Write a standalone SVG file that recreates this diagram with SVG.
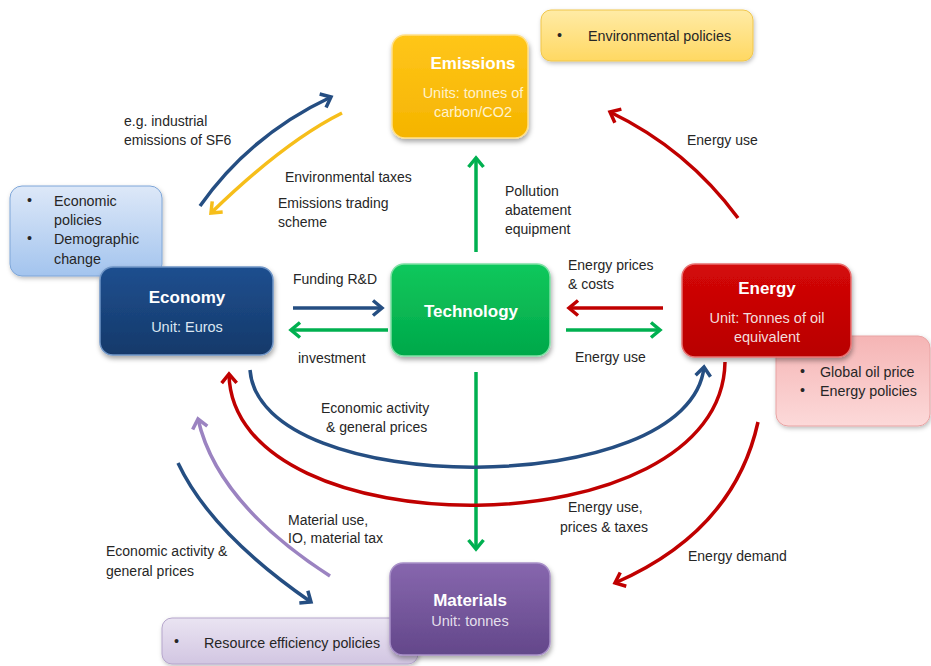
<svg xmlns="http://www.w3.org/2000/svg" width="931" height="666" viewBox="0 0 931 666">
<style>
text{font-family:"Liberation Sans",Arial,sans-serif;}
.lbl{font-size:14px;fill:#262626;}
.title{font-size:17px;font-weight:bold;fill:#ffffff;text-anchor:middle;}
.sub{font-size:14.5px;text-anchor:middle;}
.side{font-size:14.3px;fill:#262626;}
.c{fill:none;stroke-width:3.5;}
.blue{stroke:#254E82;}
.green{stroke:#00B050;}
.red{stroke:#C00000;}
.yellow{stroke:#F6BE1A;}
.purple{stroke:#9B83C1;}
</style>
<defs>
<filter id="sh" x="-20%" y="-20%" width="140%" height="150%">
<feDropShadow dx="1" dy="3" stdDeviation="2.5" flood-color="#000" flood-opacity="0.35"/>
</filter>
<filter id="sh2" x="-20%" y="-20%" width="140%" height="150%">
<feDropShadow dx="1" dy="2" stdDeviation="2" flood-color="#000" flood-opacity="0.25"/>
</filter>
<linearGradient id="gEm" x1="0" y1="0" x2="0" y2="1"><stop offset="0" stop-color="#FFC61A"/><stop offset="1" stop-color="#F5B400"/></linearGradient>
<linearGradient id="gEc" x1="0" y1="0" x2="0" y2="1"><stop offset="0" stop-color="#1E4F8F"/><stop offset="1" stop-color="#15396A"/></linearGradient>
<linearGradient id="gTe" x1="0" y1="0" x2="0" y2="1"><stop offset="0" stop-color="#10C85C"/><stop offset="1" stop-color="#00A84A"/></linearGradient>
<linearGradient id="gEn" x1="0" y1="0" x2="0" y2="1"><stop offset="0" stop-color="#D40808"/><stop offset="1" stop-color="#B80000"/></linearGradient>
<linearGradient id="gMa" x1="0" y1="0" x2="0" y2="1"><stop offset="0" stop-color="#8767AE"/><stop offset="1" stop-color="#63478A"/></linearGradient>
<linearGradient id="gEnv" x1="0" y1="0" x2="0" y2="1"><stop offset="0" stop-color="#FFEBA6"/><stop offset="1" stop-color="#FFD862"/></linearGradient>
<linearGradient id="gEcp" x1="0" y1="0" x2="0" y2="1"><stop offset="0" stop-color="#DDE8F8"/><stop offset="1" stop-color="#A3C4EE"/></linearGradient>
<linearGradient id="gEnp" x1="0" y1="0" x2="0" y2="1"><stop offset="0" stop-color="#F5B5B5"/><stop offset="1" stop-color="#FCD9D9"/></linearGradient>
<linearGradient id="gRes" x1="0" y1="0" x2="0" y2="1"><stop offset="0" stop-color="#EAE4F2"/><stop offset="1" stop-color="#D2C6E2"/></linearGradient>
<marker id="aBlue" markerUnits="userSpaceOnUse" markerWidth="24" markerHeight="24" viewBox="-14 -12 24 24" refX="0" refY="0" orient="auto"><path d="M-9,-7.5 L0,0 L-9,7.5" fill="none" stroke="#254E82" stroke-width="3.5"/></marker>
<marker id="aGreen" markerUnits="userSpaceOnUse" markerWidth="24" markerHeight="24" viewBox="-14 -12 24 24" refX="0" refY="0" orient="auto"><path d="M-9,-7.5 L0,0 L-9,7.5" fill="none" stroke="#00B050" stroke-width="3.5"/></marker>
<marker id="aRed" markerUnits="userSpaceOnUse" markerWidth="24" markerHeight="24" viewBox="-14 -12 24 24" refX="0" refY="0" orient="auto"><path d="M-9,-7.5 L0,0 L-9,7.5" fill="none" stroke="#C00000" stroke-width="3.5"/></marker>
<marker id="aYellow" markerUnits="userSpaceOnUse" markerWidth="24" markerHeight="24" viewBox="-14 -12 24 24" refX="0" refY="0" orient="auto"><path d="M-9,-7.5 L0,0 L-9,7.5" fill="none" stroke="#F6BE1A" stroke-width="3.5"/></marker>
<marker id="aPurple" markerUnits="userSpaceOnUse" markerWidth="24" markerHeight="24" viewBox="-14 -12 24 24" refX="0" refY="0" orient="auto"><path d="M-9,-7.5 L0,0 L-9,7.5" fill="none" stroke="#9B83C1" stroke-width="3.5"/></marker>
</defs>
<rect width="931" height="666" fill="#ffffff"/>

<g id="connectors">
<path class="c blue" d="M200,206 Q250,135 331,97" marker-end="url(#aBlue)"/>
<path class="c yellow" d="M342,113 Q284,142 211,213" marker-end="url(#aYellow)"/>
<path class="c red" d="M738,218 Q687,149 610,112" marker-end="url(#aRed)"/>
<path class="c green" d="M476,252 L476,158" marker-end="url(#aGreen)"/>
<path class="c green" d="M476,372 L476,549" marker-end="url(#aGreen)"/>
<path class="c blue" d="M293,308 L382,308" marker-end="url(#aBlue)"/>
<path class="c green" d="M388,330 L291,330" marker-end="url(#aGreen)"/>
<path class="c red" d="M663,308 L569,308" marker-end="url(#aRed)"/>
<path class="c green" d="M566,330 L660,330" marker-end="url(#aGreen)"/>
<path class="c blue" d="M250,370 C260,500 690,500 704,367" marker-end="url(#aBlue)"/>
<path class="c red" d="M725,362 C722,551 232,551 229,374" marker-end="url(#aRed)"/>
<path class="c purple" d="M330,576 Q217,503 198,419" marker-end="url(#aPurple)"/>
<path class="c blue" d="M178,463 Q211,533 311,602" marker-end="url(#aBlue)"/>
<path class="c red" d="M758,422 Q734,531 615,583" marker-end="url(#aRed)"/>
</g>

<g id="labels">
<text class="lbl" x="124" y="126">e.g. industrial</text>
<text class="lbl" x="124" y="145">emissions of SF6</text>
<text class="lbl" x="285" y="182">Environmental taxes</text>
<text class="lbl" x="278" y="208">Emissions trading</text>
<text class="lbl" x="278" y="227">scheme</text>
<text class="lbl" x="505" y="196">Pollution</text>
<text class="lbl" x="505" y="215">abatement</text>
<text class="lbl" x="505" y="234">equipment</text>
<text class="lbl" x="687" y="145">Energy use</text>
<text class="lbl" x="293" y="284">Funding R&amp;D</text>
<text class="lbl" x="298" y="363">investment</text>
<text class="lbl" x="568" y="270">Energy prices</text>
<text class="lbl" x="568" y="289">&amp; costs</text>
<text class="lbl" x="575" y="362">Energy use</text>
<text class="lbl" x="321" y="413">Economic activity</text>
<text class="lbl" x="326" y="432">&amp; general prices</text>
<text class="lbl" x="288" y="525">Material use,</text>
<text class="lbl" x="288" y="543">IO, material tax</text>
<text class="lbl" x="568" y="512">Energy use,</text>
<text class="lbl" x="560" y="532">prices &amp; taxes</text>
<text class="lbl" x="106" y="556">Economic activity &amp;</text>
<text class="lbl" x="106" y="576">general prices</text>
<text class="lbl" x="688" y="561">Energy demand</text>
</g>

<g id="env-policies">
<rect x="541" y="10" width="212" height="51" rx="10" fill="url(#gEnv)" stroke="#F0C64A" stroke-width="1" filter="url(#sh2)"/>
<text class="side" x="557" y="40">•</text>
<text class="side" x="588" y="41">Environmental policies</text>
</g>

<g id="econ-policies">
<rect x="10" y="186" width="152" height="90" rx="12" fill="url(#gEcp)" stroke="#7EA6D8" stroke-width="1" filter="url(#sh2)"/>
<text class="side" x="27" y="205">•</text>
<text class="side" x="54" y="206">Economic</text>
<text class="side" x="54" y="225">policies</text>
<text class="side" x="27" y="243">•</text>
<text class="side" x="54" y="244">Demographic</text>
<text class="side" x="54" y="264">change</text>
</g>

<g id="energy-policies">
<rect x="776" y="336" width="154" height="90" rx="12" fill="url(#gEnp)" stroke="#E8A3A3" stroke-width="1" filter="url(#sh2)"/>
<text class="side" x="800" y="376">•</text>
<text class="side" x="820" y="377">Global oil price</text>
<text class="side" x="800" y="395">•</text>
<text class="side" x="820" y="396">Energy policies</text>
</g>

<g id="resource-policies">
<rect x="162" y="618" width="256" height="46" rx="10" fill="url(#gRes)" stroke="#B5A5CB" stroke-width="1" filter="url(#sh2)"/>
<text class="side" x="174" y="646">•</text>
<text class="side" x="204" y="648">Resource efficiency policies</text>
</g>

<g id="emissions">
<rect x="392" y="35" width="136" height="103" rx="13" fill="url(#gEm)" stroke="#FFE08A" stroke-width="1.5" filter="url(#sh)"/>
<text class="title" x="473" y="69">Emissions</text>
<text class="sub" x="473" y="98" fill="#FFF2CC">Units: tonnes of</text>
<text class="sub" x="473" y="117" fill="#FFF2CC">carbon/CO2</text>
</g>

<g id="economy">
<rect x="100" y="267" width="173" height="88" rx="13" fill="url(#gEc)" stroke="#6F95C6" stroke-width="1.5" filter="url(#sh)"/>
<text class="title" x="187" y="303">Economy</text>
<text class="sub" x="187" y="332" fill="#DCE6F2">Unit: Euros</text>
</g>

<g id="technology">
<rect x="391" y="264" width="159" height="92" rx="13" fill="url(#gTe)" stroke="#7FE0A5" stroke-width="1.5" filter="url(#sh)"/>
<text class="title" x="471" y="317">Technology</text>
</g>

<g id="energy">
<rect x="682" y="264" width="169" height="93" rx="13" fill="url(#gEn)" stroke="#E87070" stroke-width="1.5" filter="url(#sh)"/>
<text class="title" x="767" y="294">Energy</text>
<text class="sub" x="767" y="323" fill="#F2DCDB">Unit: Tonnes of oil</text>
<text class="sub" x="767" y="342" fill="#F2DCDB">equivalent</text>
</g>

<g id="materials">
<rect x="390" y="563" width="160" height="92" rx="13" fill="url(#gMa)" stroke="#A890C8" stroke-width="1.5" filter="url(#sh)"/>
<text class="title" x="470" y="606">Materials</text>
<text class="sub" x="470" y="626" fill="#E4DFEC">Unit: tonnes</text>
</g>
</svg>
